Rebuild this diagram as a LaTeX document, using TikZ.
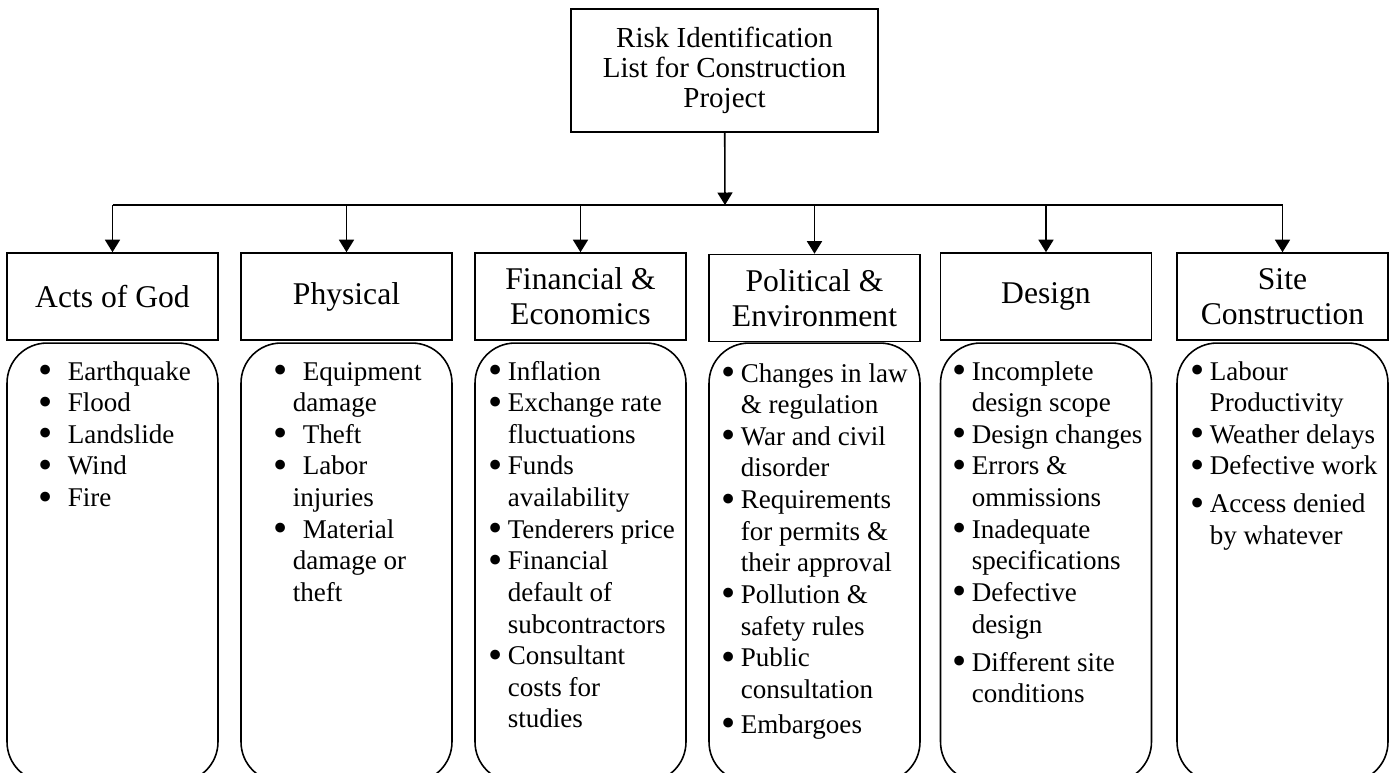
\documentclass[tikz,border=0pt]{standalone}
\usepackage{fontspec}
\setmainfont{Liberation Serif}
\usetikzlibrary{arrows.meta,positioning}
\newcommand{\bul}{\smash{\raisebox{-0.13em}{\scalebox{1.5}{\textbullet}}}}
\newcommand{\itm}[1][0.38cm]{\makebox[#1][l]{\bul}}
\newcommand{\cnt}[1][0.38cm]{\hspace*{#1}}

\begin{document}
\begin{tikzpicture}[x=0.02cm,y=-0.02cm,
  line width=0.9pt,
  topbox/.style={draw,minimum width=6.14cm,minimum height=2.46cm,align=center,
                 inner sep=2pt,font=\fontsize{16.5}{17}\selectfont},
  headbox/.style={draw,minimum width=4.22cm,minimum height=1.74cm,align=center,
                  inner sep=2pt,font=\fontsize{18}{19.9}\selectfont},
  listbox/.style={draw,rounded corners=0.8cm,minimum width=4.22cm,minimum height=8.78cm},
  items/.style={anchor=base west,inner sep=0pt,font=\fontsize{15.4}{18}\selectfont},
  arr/.style={-{Triangle[length=0.25cm,width=0.3cm]}}]
\useasboundingbox (0,0) rectangle (1390,772);

\node[topbox] (top) at (724.5,70.5) {Risk Identification\\List for Construction\\Project};

% categories
\node[headbox] (h1) at (112.5,296.5) {Acts of God};
\node[headbox] (h2) at (346.5,296.5) {Physical};
\node[headbox] (h3) at (580.5,296.5) {Financial \&\\Economics};
\node[headbox] (h4) at (814.5,298) {Political \&\\Environment};
\node[headbox] (h5) at (1046,296.5) {Design};
\node[headbox] (h6) at (1282.5,296.5) {Site\\Construction};

\foreach \i/\x in {1/112.5,2/346.5,3/580.5,4/814.5,5/1046,6/1282.5}
  \node[listbox] (l\i) at (\x,562.5) {};

% risk lists
\node[items] (r1) at (38,380) {\parbox[t]{4.2cm}{\raggedright
  \itm[0.58cm]Earthquake\\ \itm[0.58cm]Flood\\ \itm[0.58cm]Landslide\\
  \itm[0.58cm]Wind\\ \itm[0.58cm]Fire}};
\node[items] (r2) at (273,380) {\parbox[t]{4.2cm}{\raggedright
  \itm[0.58cm]Equipment\\ \cnt damage\\ \itm[0.58cm]Theft\\
  \itm[0.58cm]Labor\\ \cnt injuries\\ \itm[0.58cm]Material\\
  \cnt damage or\\ \cnt theft}};
\node[items] (r3) at (488,380) {\parbox[t]{4.2cm}{\raggedright
  \itm Inflation\\ \itm Exchange rate\\ \cnt fluctuations\\
  \itm Funds\\ \cnt availability\\ \itm Tenderers price\\
  \itm Financial\\ \cnt default of\\ \cnt subcontractors\\
  \itm Consultant\\ \cnt costs for\\ \cnt studies}};
\node[items] (r4) at (721,382) {\parbox[t]{4.2cm}{\raggedright
  \itm Changes in law\\ \cnt \& regulation\\ \itm War and civil\\
  \cnt disorder\\ \itm Requirements\\ \cnt for permits \&\\
  \cnt their approval\\ \itm Pollution \&\\ \cnt safety rules\\
  \itm Public\\ \cnt consultation\\[0.07cm] \itm Embargoes}};
\node[items] (r5) at (952,380) {\parbox[t]{4.2cm}{\raggedright
  \itm Incomplete\\ \cnt design scope\\ \itm Design changes\\
  \itm Errors \&\\ \cnt ommissions\\ \itm Inadequate\\
  \cnt specifications\\ \itm Defective\\ \cnt design\\[0.13cm]
  \itm Different site\\ \cnt conditions}};
\node[items] (r6) at (1190,380) {\parbox[t]{4.2cm}{\raggedright
  \itm Labour\\ \cnt Productivity\\ \itm Weather delays\\
  \itm Defective work\\[0.12cm] \itm Access denied\\ \cnt by whatever}};

% connectors
\coordinate (bus) at (725,205);
\draw[arr] (top) -- (bus);
\draw (h1.north |- bus) -- (h6.north |- bus);
\foreach \i in {1,...,6}
  \draw[arr] (h\i.north |- bus) -- (h\i.north);
\end{tikzpicture}
\end{document}
